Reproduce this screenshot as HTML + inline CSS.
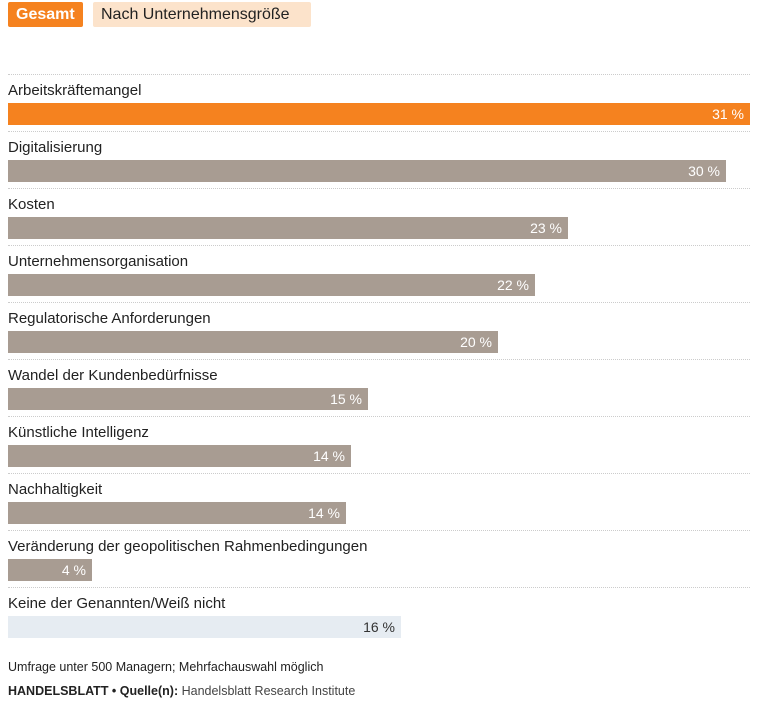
<!DOCTYPE html>
<html><head><meta charset="utf-8"><style>
body{margin:0;width:760px;height:719px;background:#fff;font-family:"Liberation Sans",sans-serif;color:#222;position:relative;overflow:hidden}
.btn{position:absolute;top:2px;height:25px;line-height:25px;font-size:16px;border-radius:2px;padding:0 8px}
.sep{position:absolute;left:8px;width:742px;border-top:1px dotted #ccc;height:0}
.lab{position:absolute;left:8px;font-size:15px;line-height:18px}
.bar{position:absolute;left:8px;height:22px;background:#a89c92;color:#fff;font-size:14px;line-height:22px;text-align:right;box-sizing:border-box;padding-right:6px}
.foot{position:absolute;left:8px;font-size:12.5px}
</style></head><body>
<div class="btn" style="left:8px;width:59px;background:#f5821f;color:#fff;font-weight:bold">Gesamt</div>
<div class="btn" style="left:93px;width:202px;background:#fce3cb;color:#222">Nach Unternehmensgröße</div>
<div id="c"></div>
<script>
var d=[["Arbeitskräftemangel",742,"31 %","#f5821f","#fff"],["Digitalisierung",718,"30 %"],["Kosten",560,"23 %"],["Unternehmensorganisation",527,"22 %"],["Regulatorische Anforderungen",490,"20 %"],["Wandel der Kundenbedürfnisse",360,"15 %"],["Künstliche Intelligenz",343,"14 %"],["Nachhaltigkeit",338,"14 %"],["Veränderung der geopolitischen Rahmenbedingungen",84,"4 %"],["Keine der Genannten/Weiß nicht",393,"16 %","#e6ecf2","#333"]];
var h="";d.forEach(function(r,i){var y=74+57*i;
h+='<div class="sep" style="top:'+y+'px"></div><div class="lab" style="top:'+(y+8)+'px">'+r[0]+'</div><div class="bar" style="top:'+(y+29)+'px;width:'+r[1]+'px;'+(r[3]?'background:'+r[3]+';color:'+r[4]:'')+'">'+r[2]+'</div>';});
document.getElementById("c").innerHTML=h;
</script>
<div class="foot" style="top:660px">Umfrage unter 500 Managern; Mehrfachauswahl möglich</div>
<div class="foot" style="top:684px"><b>HANDELSBLATT • Quelle(n):</b> <span style="color:#444">Handelsblatt Research Institute</span></div>
</body></html>
